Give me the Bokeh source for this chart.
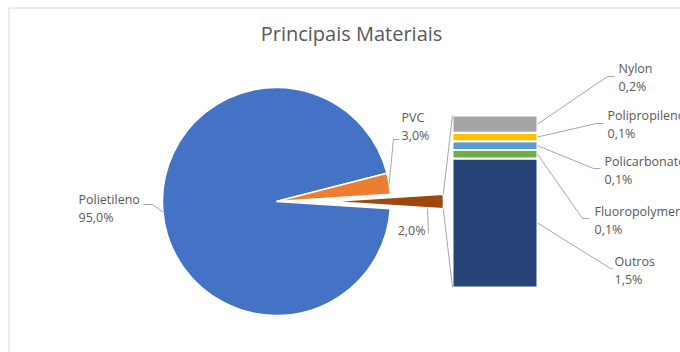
import numpy as np
from bokeh.plotting import figure
from bokeh.models import Range1d
from bokeh.core.properties import value
from bokeh.embed import file_html
from bokeh.resources import INLINE

# ---- data ----
title_text = "Principais Materiais"
pie_labels = ["Polietileno", "PVC"]
pie_values = [95.0, 3.0]
other_value = 2.0
bar_labels = ["Outros", "Fluoropolymer", "Policarbonato", "Polipropileno", "Nylon"]
bar_values = [1.5, 0.1, 0.1, 0.1, 0.2]

pie_colors = ["#4472C4", "#ED7D31"]
other_color = "#9E480E"
bar_colors = ["#264478", "#70AD47", "#5B9BD5", "#FFC000", "#A5A5A5"]

W, H = 680, 352
FONT = "Open Sans"
TXT = "#595959"
LEAD = "#A6A6A6"

def Y(y):
    return H - y

def fmt(v):
    return f"{v:.1f}".replace(".", ",") + "%"

p = figure(width=W, height=H, output_backend="svg", toolbar_location=None,
           x_range=Range1d(0, W), y_range=Range1d(0, H),
           x_axis_type=None, y_axis_type=None, min_border=0)
p.grid.visible = False
p.outline_line_color = None
p.background_fill_color = "white"
p.border_fill_color = "white"

# chart frame
p.quad(left=[8.5], right=[W + 10], top=[Y(7.5)], bottom=[-10],
       fill_color=None, line_color="#D9D9D9", line_width=1)

# ---- pie ----
cx, cy, r = 276, Y(201), 114
explode = 53
deg_per = 3.6
ha = other_value / 2 * deg_per
# PVC first (just above the "other" slice), then Polietileno
order = [1, 0]
starts, ends = [0.0, 0.0], [0.0, 0.0]
a = ha
for i in order:
    starts[i] = a
    ends[i] = a + pie_values[i] * deg_per
    a = ends[i]
p.wedge(x=[cx] * 2, y=[cy] * 2, radius=r,
        start_angle=starts, end_angle=ends,
        start_angle_units="deg", end_angle_units="deg",
        fill_color=pie_colors, line_color="white", line_width=1.5)
p.wedge(x=[cx + explode], y=[cy], radius=r, start_angle=[-ha], end_angle=[ha],
        start_angle_units="deg", end_angle_units="deg",
        fill_color=[other_color], line_color="white", line_width=1.5)

# ---- bar ----
bx0, bx1 = 452, 537
b_bottom, b_top = Y(287), Y(115)
scale = (b_top - b_bottom) / sum(bar_values)
cum = np.concatenate([[0], np.cumsum(bar_values)])
bottoms = b_bottom + cum[:-1] * scale
tops = b_bottom + cum[1:] * scale
p.quad(left=[bx0] * len(bar_values), right=[bx1] * len(bar_values),
       bottom=list(bottoms), top=list(tops), fill_color=bar_colors,
       line_color="white", line_width=2)

# series lines
ox = cx + explode
tx = ox + r * np.cos(np.radians(ha))
ty = cy + r * np.sin(np.radians(ha))
by_ = cy - r * np.sin(np.radians(ha))
p.multi_line(xs=[[tx, bx0], [tx, bx0]], ys=[[ty, b_top], [by_, b_bottom]],
             line_color=LEAD, line_width=1)

# ---- leaders and labels ----
pie_mid = [(s + e) / 2 for s, e in zip(starts, ends)]
pie_lab_pos = [(78, 199, 217, [(152, 204), (143, 204)]),
               (401, 117, 135, [(393, 139), (399, 139)])]
lxs, lys = [], []
for m, (lx, ly1, ly2, pts) in zip(pie_mid, pie_lab_pos):
    sx = cx + r * np.cos(np.radians(m))
    sy = cy + r * np.sin(np.radians(m))
    lxs.append([sx] + [q[0] for q in pts])
    lys.append([sy] + [Y(q[1]) for q in pts])
# other slice leader
lxs.append([427, 428]); lys.append([Y(208), Y(233)])

bar_lab_pos = [(614, 261, 279, [(610, 268), (612, 268)]),
               (594, 211, 229, [(582, 218), (589, 218)]),
               (604, 161, 179, [(593, 168), (600, 168)]),
               (607, 115, 133, [(596, 123), (603, 123)]),
               (618, 68, 86, [(607, 76), (614, 76)])]
mids = (bottoms + tops) / 2
for m, (lx, ly1, ly2, pts) in zip(mids, bar_lab_pos):
    lxs.append([bx1] + [q[0] for q in pts])
    lys.append([m] + [Y(q[1]) for q in pts])
p.multi_line(xs=lxs, ys=lys, line_color=LEAD, line_width=1)

fs = "12.5px"
names = pie_labels + bar_labels
vals = pie_values + bar_values
xs_ = [q[0] for q in pie_lab_pos] + [q[0] for q in bar_lab_pos]
y1 = [Y(q[1]) for q in pie_lab_pos] + [Y(q[1]) for q in bar_lab_pos]
y2 = [Y(q[2]) for q in pie_lab_pos] + [Y(q[2]) for q in bar_lab_pos]
p.text(x=xs_, y=y1, text=names, text_font=value(FONT), text_font_size=fs,
       text_color=TXT, text_align="left", text_baseline="middle")
p.text(x=xs_, y=y2, text=[fmt(v) for v in vals], text_font=value(FONT),
       text_font_size=fs, text_color=TXT, text_align="left", text_baseline="middle")
p.text(x=[425], y=[Y(230)], text=[fmt(other_value)], text_font=value(FONT),
       text_font_size=fs, text_color=TXT, text_align="right", text_baseline="middle")

# title
p.text(x=[351], y=[Y(33)], text=[title_text], text_font=value(FONT),
       text_font_size="20px", text_color=TXT, text_align="center", text_baseline="middle")

open("out.html", "w").write(file_html(p, INLINE))
